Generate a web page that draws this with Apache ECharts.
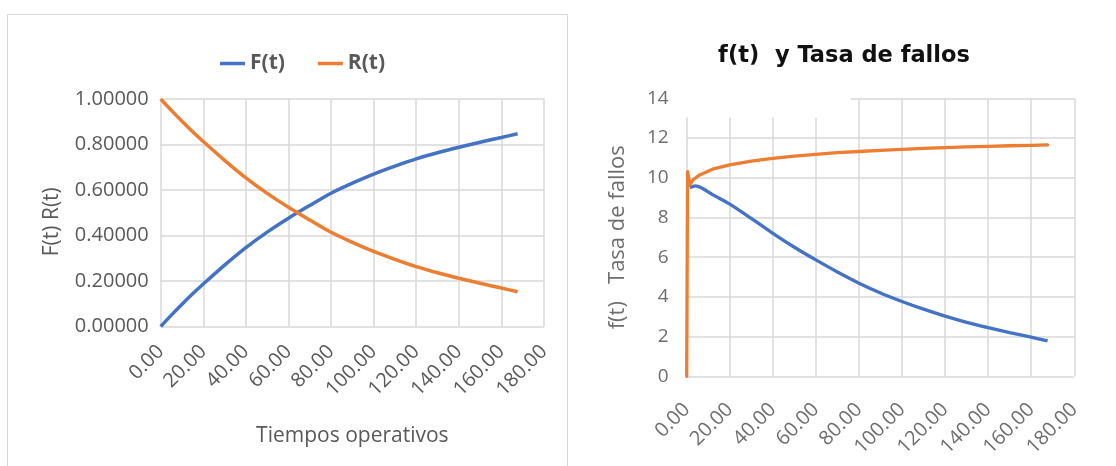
<!DOCTYPE html>
<html>
<head>
<meta charset="utf-8">
<script src="https://cdn.jsdelivr.net/npm/echarts@6/dist/echarts.min.js"></script>
<style>
  html, body { margin: 0; padding: 0; background: #ffffff; }
  #chart { width: 1116px; height: 466px; }
</style>
</head>
<body>
<div id="chart"></div>
<script>
// Operating times (x) and cumulative failure / reliability curves
const reliabilityTimes = [0, 5, 10, 15, 20, 30, 40, 50, 60, 70, 80, 90, 100, 110, 120, 130, 140, 150, 160, 167.6];
const cdfF =            [0, 0.05, 0.098, 0.144, 0.187, 0.27, 0.347, 0.415, 0.476, 0.532, 0.586, 0.63, 0.67, 0.705, 0.737, 0.764, 0.788, 0.81, 0.831, 0.847];
const reliabilityR =    [1, 0.95, 0.902, 0.856, 0.813, 0.73, 0.653, 0.585, 0.524, 0.468, 0.414, 0.37, 0.33, 0.295, 0.263, 0.236, 0.212, 0.19, 0.169, 0.153];

// Density f(t) and failure rate, both per 1000
const densityTimes =  [1.5, 4, 7, 12, 20, 30, 40, 50, 60, 70, 80, 90, 100, 110, 120, 130, 140, 150, 160, 167.6];
const densityValues = [9.5, 9.59, 9.48, 9.15, 8.67, 7.95, 7.2, 6.5, 5.86, 5.25, 4.69, 4.2, 3.77, 3.38, 3.03, 2.72, 2.45, 2.2, 1.97, 1.78];
const rateTimes =  [0, 0.4, 1.5, 3, 6, 12, 20, 30, 40, 50, 60, 70, 80, 90, 100, 110, 120, 130, 140, 150, 160, 167.6];
const rateValues = [0, 10.3, 9.65, 9.9, 10.14, 10.43, 10.65, 10.84, 10.98, 11.09, 11.18, 11.26, 11.32, 11.38, 11.43, 11.48, 11.52, 11.55, 11.58, 11.61, 11.63, 11.65];

// Tick values
const timeTicks = [0, 20, 40, 60, 80, 100, 120, 140, 160, 180];
const probTicks = [0, 0.2, 0.4, 0.6, 0.8, 1];
const rateTicks = [0, 2, 4, 6, 8, 10, 12, 14];

const seriesNames = ['F(t)', 'R(t)'];
const BLUE = '#4472C4';
const ORANGE = '#ED7D31';
const GRID_GRAY = '#d9d9d9';
const TEXT_GRAY = '#595959';
const SOFT_GRAY = '#6e6e6e';
const FONT = '"Open Sans", "Noto Sans", sans-serif';

const pairs = (xs, ys) => xs.map((x, i) => [x, ys[i]]);

function timeAxis(gridIndex, labelColor, margin) {
  return {
    type: 'value', gridIndex: gridIndex,
    min: timeTicks[0], max: timeTicks[timeTicks.length - 1],
    interval: timeTicks[1] - timeTicks[0],
    axisLine: { show: false }, axisTick: { show: false },
    splitLine: { show: true, lineStyle: { color: GRID_GRAY, width: 1.5 } },
    axisLabel: {
      rotate: 45, margin: margin, color: labelColor, fontSize: 20, fontFamily: FONT,
      formatter: v => v.toFixed(2)
    }
  };
}

const chart = echarts.init(document.getElementById('chart'), null, { renderer: 'canvas' });

chart.setOption({
  animation: false,
  backgroundColor: '#ffffff',
  title: [{
    text: 'f(t)  y Tasa de fallos',
    left: 839, top: 40, textAlign: 'center',
    textStyle: { fontFamily: '"DejaVu Sans", sans-serif', fontWeight: 'bold', fontSize: 22.5, color: '#111111' }
  }],
  legend: {
    data: seriesNames,
    left: 215, top: 48,
    itemWidth: 25, itemHeight: 3.5, itemGap: 33, icon: 'rect',
    textStyle: { fontFamily: FONT, fontSize: 21, fontWeight: 'bold', color: TEXT_GRAY }
  },
  grid: [
    { left: 160.7, top: 99, width: 383.3, height: 227.5, containLabel: false, outerBoundsMode: 'none' },
    { left: 686.7, top: 98.3, width: 387.6, height: 278, containLabel: false, outerBoundsMode: 'none' }
  ],
  xAxis: [
    Object.assign(timeAxis(0, TEXT_GRAY, 22), {
      name: 'Tiempos operativos', nameLocation: 'middle', nameGap: 99,
      nameTextStyle: { fontFamily: FONT, fontSize: 21, color: TEXT_GRAY }
    }),
    timeAxis(1, SOFT_GRAY, 30)
  ],
  yAxis: [
    {
      type: 'value', gridIndex: 0,
      min: probTicks[0], max: probTicks[probTicks.length - 1],
      interval: probTicks[1] - probTicks[0],
      axisLine: { show: false }, axisTick: { show: false },
      splitLine: { show: true, lineStyle: { color: GRID_GRAY, width: 1.5 } },
      axisLabel: { margin: 12, color: TEXT_GRAY, fontSize: 20, fontFamily: FONT, formatter: v => v.toFixed(5) },
      name: 'F(t) R(t)', nameLocation: 'middle', nameGap: 98, nameRotate: 90,
      nameTextStyle: { fontFamily: FONT, fontSize: 21, color: TEXT_GRAY, padding: [0, 18, 0, 0] }
    },
    {
      type: 'value', gridIndex: 1,
      min: rateTicks[0], max: rateTicks[rateTicks.length - 1],
      interval: rateTicks[1] - rateTicks[0],
      axisLine: { show: false }, axisTick: { show: false },
      splitLine: { show: true, lineStyle: { color: GRID_GRAY, width: 1.5 } },
      axisLabel: { margin: 18, color: SOFT_GRAY, fontSize: 19, fontFamily: FONT },
      name: 'f(t)   Tasa de fallos', nameLocation: 'middle', nameGap: 58, nameRotate: 90,
      nameTextStyle: { fontFamily: FONT, fontSize: 22, color: SOFT_GRAY }
    }
  ],
  series: [
    {
      name: seriesNames[0], type: 'line', xAxisIndex: 0, yAxisIndex: 0,
      data: pairs(reliabilityTimes, cdfF), showSymbol: false, smooth: 0.3,
      lineStyle: { color: BLUE, width: 3.5 }, itemStyle: { color: BLUE }
    },
    {
      name: seriesNames[1], type: 'line', xAxisIndex: 0, yAxisIndex: 0,
      data: pairs(reliabilityTimes, reliabilityR), showSymbol: false, smooth: 0.3,
      lineStyle: { color: ORANGE, width: 3.5 }, itemStyle: { color: ORANGE }
    },
    {
      name: 'f(t)', type: 'line', xAxisIndex: 1, yAxisIndex: 1,
      data: pairs(densityTimes, densityValues), showSymbol: false, smooth: 0.3,
      lineStyle: { color: BLUE, width: 3.3 }, itemStyle: { color: BLUE }
    },
    {
      name: 'Tasa de fallos', type: 'line', xAxisIndex: 1, yAxisIndex: 1,
      data: pairs(rateTimes, rateValues), showSymbol: false, smooth: false,
      lineStyle: { color: ORANGE, width: 3.3, join: 'round', cap: 'round' }, itemStyle: { color: ORANGE }
    }
  ],
  graphic: [
    // frame around the left chart
    { type: 'rect', shape: { x: 7.5, y: 14.5, width: 560, height: 470 }, style: { fill: 'none', stroke: GRID_GRAY, lineWidth: 1 }, z: 10 },
    // blank strip across the upper-left corner of the right plot
    { type: 'rect', shape: { x: 684, y: 95, width: 167, height: 22.5 }, style: { fill: '#ffffff' }, z: 10 }
  ]
});
</script>
</body>
</html>
